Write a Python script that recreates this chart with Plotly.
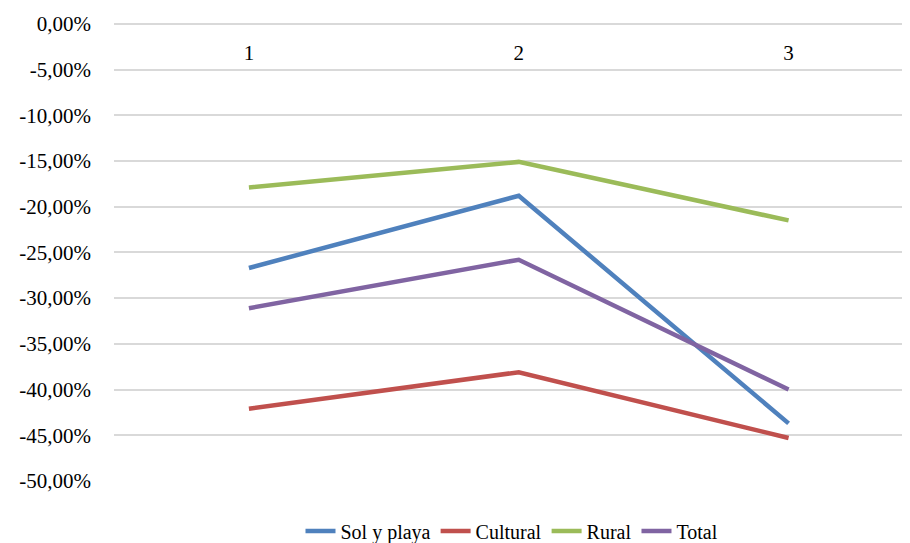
import plotly.graph_objects as go

categories = ["1", "2", "3"]
sol_y_playa = [-0.267, -0.188, -0.437]
cultural = [-0.421, -0.381, -0.453]
rural = [-0.179, -0.151, -0.215]
total = [-0.311, -0.258, -0.400]

y_tickvals = [0, -0.05, -0.10, -0.15, -0.20, -0.25, -0.30, -0.35, -0.40, -0.45, -0.50]
y_ticktext = ["0,00%", "-5,00%", "-10,00%", "-15,00%", "-20,00%", "-25,00%",
              "-30,00%", "-35,00%", "-40,00%", "-45,00%", "-50,00%"]

series = [
    ("Sol y playa", sol_y_playa, "#4F81BD"),
    ("Cultural", cultural, "#C0504D"),
    ("Rural", rural, "#9BBB59"),
    ("Total", total, "#8064A2"),
]

fig = go.Figure()
xpos = list(range(len(categories)))
for name, vals, color in series:
    fig.add_trace(go.Scatter(x=xpos, y=vals, name=name, mode="lines",
                             line=dict(color=color, width=4.5)))

font_family = "'Times New Roman', 'Liberation Serif', 'DejaVu Serif', serif"
fig.update_layout(
    width=902, height=535,
    margin=dict(l=106, r=0, t=14, b=62, autoexpand=False),
    paper_bgcolor="white", plot_bgcolor="white",
    font=dict(family=font_family, size=21, color="black"),
    showlegend=True,
    legend=dict(orientation="h", x=0.5, xanchor="center", y=-0.109, yanchor="middle",
                font=dict(family=font_family, size=20, color="black")),
    xaxis=dict(
        range=[-0.5, 2.45], tickvals=xpos, ticktext=categories,
        anchor="free", position=1, side="bottom",
        showgrid=False, zeroline=False, showline=False,
        ticks="outside", ticklen=12, tickcolor="rgba(0,0,0,0)",
        tickfont=dict(family=font_family, size=21, color="black"),
    ),
    yaxis=dict(
        range=[-0.5, 0.002], tickvals=y_tickvals, ticktext=y_ticktext,
        showgrid=True, gridcolor="#D9D9D9", gridwidth=1.5,
        zeroline=False, showline=False, ticks="", ticklabelstandoff=22,
        tickfont=dict(family=font_family, size=21, color="black"),
    ),
)

fig.write_html("out.html")
